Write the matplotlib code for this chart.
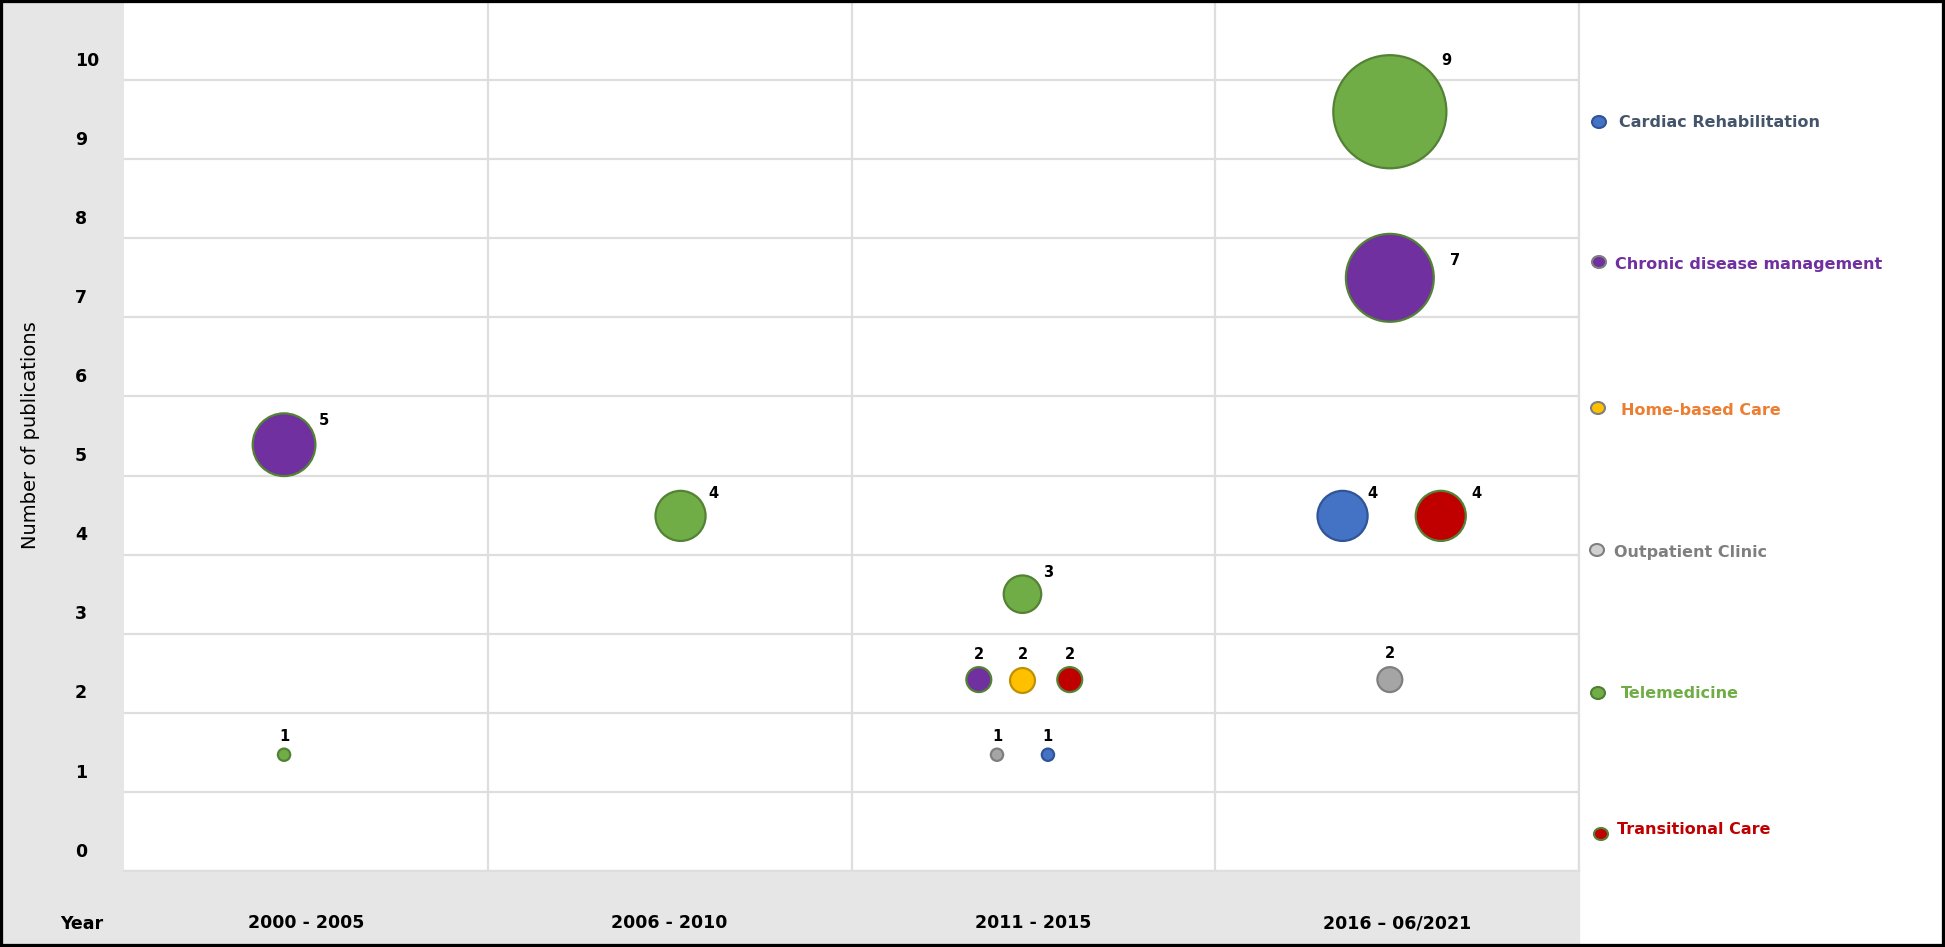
import numpy as np
import matplotlib
matplotlib.use("Agg")
import matplotlib.pyplot as plt
from matplotlib.patches import Rectangle, Ellipse

# ---- data ----
periods = ["2000 - 2005", "2006 - 2010", "2011 - 2015", "2016 \u2013 06/2021"]
y_ticks = list(range(0, 11))
categories = ["Cardiac Rehabilitation", "Chronic disease management", "Home-based Care",
              "Outpatient Clinic", "Telemedicine", "Transitional Care"]

bubble_category = ["Telemedicine", "Chronic disease management",
                   "Telemedicine",
                   "Telemedicine", "Chronic disease management", "Home-based Care",
                   "Transitional Care", "Outpatient Clinic", "Cardiac Rehabilitation",
                   "Telemedicine", "Chronic disease management", "Cardiac Rehabilitation",
                   "Transitional Care", "Outpatient Clinic"]
bubble_count = [1, 5, 4, 3, 2, 2, 2, 1, 1, 9, 7, 4, 4, 2]
bubble_x = [0.44, 0.44, 1.53, 2.47, 2.35, 2.47, 2.60, 2.40, 2.54, 3.48, 3.48, 3.35, 3.62, 3.48]
bubble_y = [1.47, 5.39, 4.49, 3.50, 2.42, 2.42, 2.42, 1.47, 1.47, 9.60, 7.50, 4.49, 4.49, 2.42]

# ---- styling ----
fill = {"Cardiac Rehabilitation": "#4472C4", "Chronic disease management": "#7030A0",
        "Home-based Care": "#FFC000", "Outpatient Clinic": "#A5A5A5",
        "Telemedicine": "#70AD47", "Transitional Care": "#C00000"}
edge = {"Cardiac Rehabilitation": "#2F5597", "Chronic disease management": "#548235",
        "Home-based Care": "#BF9000", "Outpatient Clinic": "#7F7F7F",
        "Telemedicine": "#548235", "Transitional Care": "#548235"}
legend_fill = dict(fill, **{"Outpatient Clinic": "#D0D0D0"})
legend_edge = {"Cardiac Rehabilitation": "#2F5597", "Chronic disease management": "#7F7F7F",
               "Home-based Care": "#7F7F7F", "Outpatient Clinic": "#7F7F7F",
               "Telemedicine": "#507E32", "Transitional Care": "#548235"}
legend_text = {"Cardiac Rehabilitation": "#44546A", "Chronic disease management": "#7030A0",
               "Home-based Care": "#ED7D31", "Outpatient Clinic": "#7F7F7F",
               "Telemedicine": "#70AD47", "Transitional Care": "#C00000"}
# label offsets in pixels (dx, dy up)
label_offsets = [(0, 18), (40, 24), (33, 22), (26, 22), (0, 25), (0, 25), (0, 25),
                 (0, 18), (0, 18), (56, 51), (65, 17), (30, 22), (36, 22), (0, 26)]
# legend layout in pixels (marker x, marker y, text x, text y)
legend_pos = [(1599, 122, 1619, 122), (1599, 262, 1615, 264), (1598, 408, 1621, 410),
              (1597, 550, 1614, 552), (1598, 693, 1621, 693), (1601, 834, 1617, 829)]

plt.rcParams["font.family"] = ["DejaVu Sans"]
DPI = 100
W, H = 1945, 947
PT = 72 / DPI
GRID = "#DEDEDE"
PANEL = "#E7E6E6"

fig = plt.figure(figsize=(W / DPI, H / DPI), dpi=DPI)
fig.patch.set_facecolor("white")
fig.patches.append(Rectangle((0, 0), 124 / W, 1, transform=fig.transFigure,
                             color=PANEL, zorder=-1))
fig.patches.append(Rectangle((0, 0), 1579 / W, 76 / H, transform=fig.transFigure,
                             color=PANEL, zorder=-1))

ax = fig.add_axes([124 / W, 76 / H, (1579 - 124) / W, 870 / H])
ax.set_facecolor("white")
ax.set_xlim(0, 4)
ax.set_ylim(0, 11)
for side in ["left", "top"]:
    ax.spines[side].set_visible(False)
for side in ["right", "bottom"]:
    ax.spines[side].set_color(GRID)
    ax.spines[side].set_linewidth(1.6)

ax.set_yticks(np.array(y_ticks) + 0.27, labels=[str(v) for v in y_ticks])
ax.set_yticks(y_ticks, minor=True)
ax.set_xticks(np.arange(len(periods)) + 0.5, labels=periods)
ax.set_xticks(np.arange(1, len(periods) + 1), minor=True)
ax.tick_params(which="both", length=0)
ax.tick_params(axis="y", pad=49 * PT, labelsize=12.5)
ax.tick_params(axis="x", pad=52 * PT, labelsize=12.5)
for lbl in ax.get_yticklabels():
    lbl.set_horizontalalignment("left")
    lbl.set_fontweight("bold")
for lbl in ax.get_xticklabels():
    lbl.set_verticalalignment("center")
    lbl.set_fontweight("bold")
ax.grid(which="minor", color=GRID, linewidth=1.6)
ax.grid(which="major", visible=False)
ax.set_axisbelow(True)

# bubbles: outer diameter in px grows linearly with count
for cat in categories:
    idx = [i for i, c in enumerate(bubble_category) if c == cat]
    xs = [bubble_x[i] for i in idx]
    ys = [bubble_y[i] for i in idx]
    diam = np.array([12.6 * bubble_count[i] + 1.8 for i in idx])
    sizes = ((diam - 2.1) * PT) ** 2
    ax.scatter(xs, ys, s=sizes, c=fill[cat], edgecolors=edge[cat],
               linewidths=1.6, zorder=3, clip_on=False)

for i, n in enumerate(bubble_count):
    dx, dy = label_offsets[i]
    ax.annotate(str(n), (bubble_x[i], bubble_y[i]), xytext=(dx * PT, dy * PT),
                textcoords="offset points", ha="center", va="center",
                fontsize=10.5, fontweight="bold", zorder=4)

fig.text(31 / W, 1 - 435 / H, "Number of publications", rotation=90,
         ha="center", va="center", fontsize=14)
fig.text(82 / W, 1 - 924 / H, "Year", ha="center", va="center",
         fontsize=12.5, fontweight="bold")

# legend drawn in pixel coordinates
leg = fig.add_axes([1579 / W, 0, (W - 1579) / W, 1])
leg.set_xlim(1579, W)
leg.set_ylim(H, 0)
leg.axis("off")
for cat, (mx, my, tx, ty) in zip(categories, legend_pos):
    leg.add_patch(Ellipse((mx, my), 14, 12, facecolor=legend_fill[cat],
                          edgecolor=legend_edge[cat], linewidth=1.5))
    leg.text(tx, ty, cat, ha="left", va="center", fontsize=11.5,
             fontweight="bold", color=legend_text[cat])

fig.patches.append(Rectangle((0, 0), 1, 1, transform=fig.transFigure, fill=False,
                             edgecolor="black", linewidth=4.5, zorder=10))

fig.savefig("out.png", dpi=DPI)
